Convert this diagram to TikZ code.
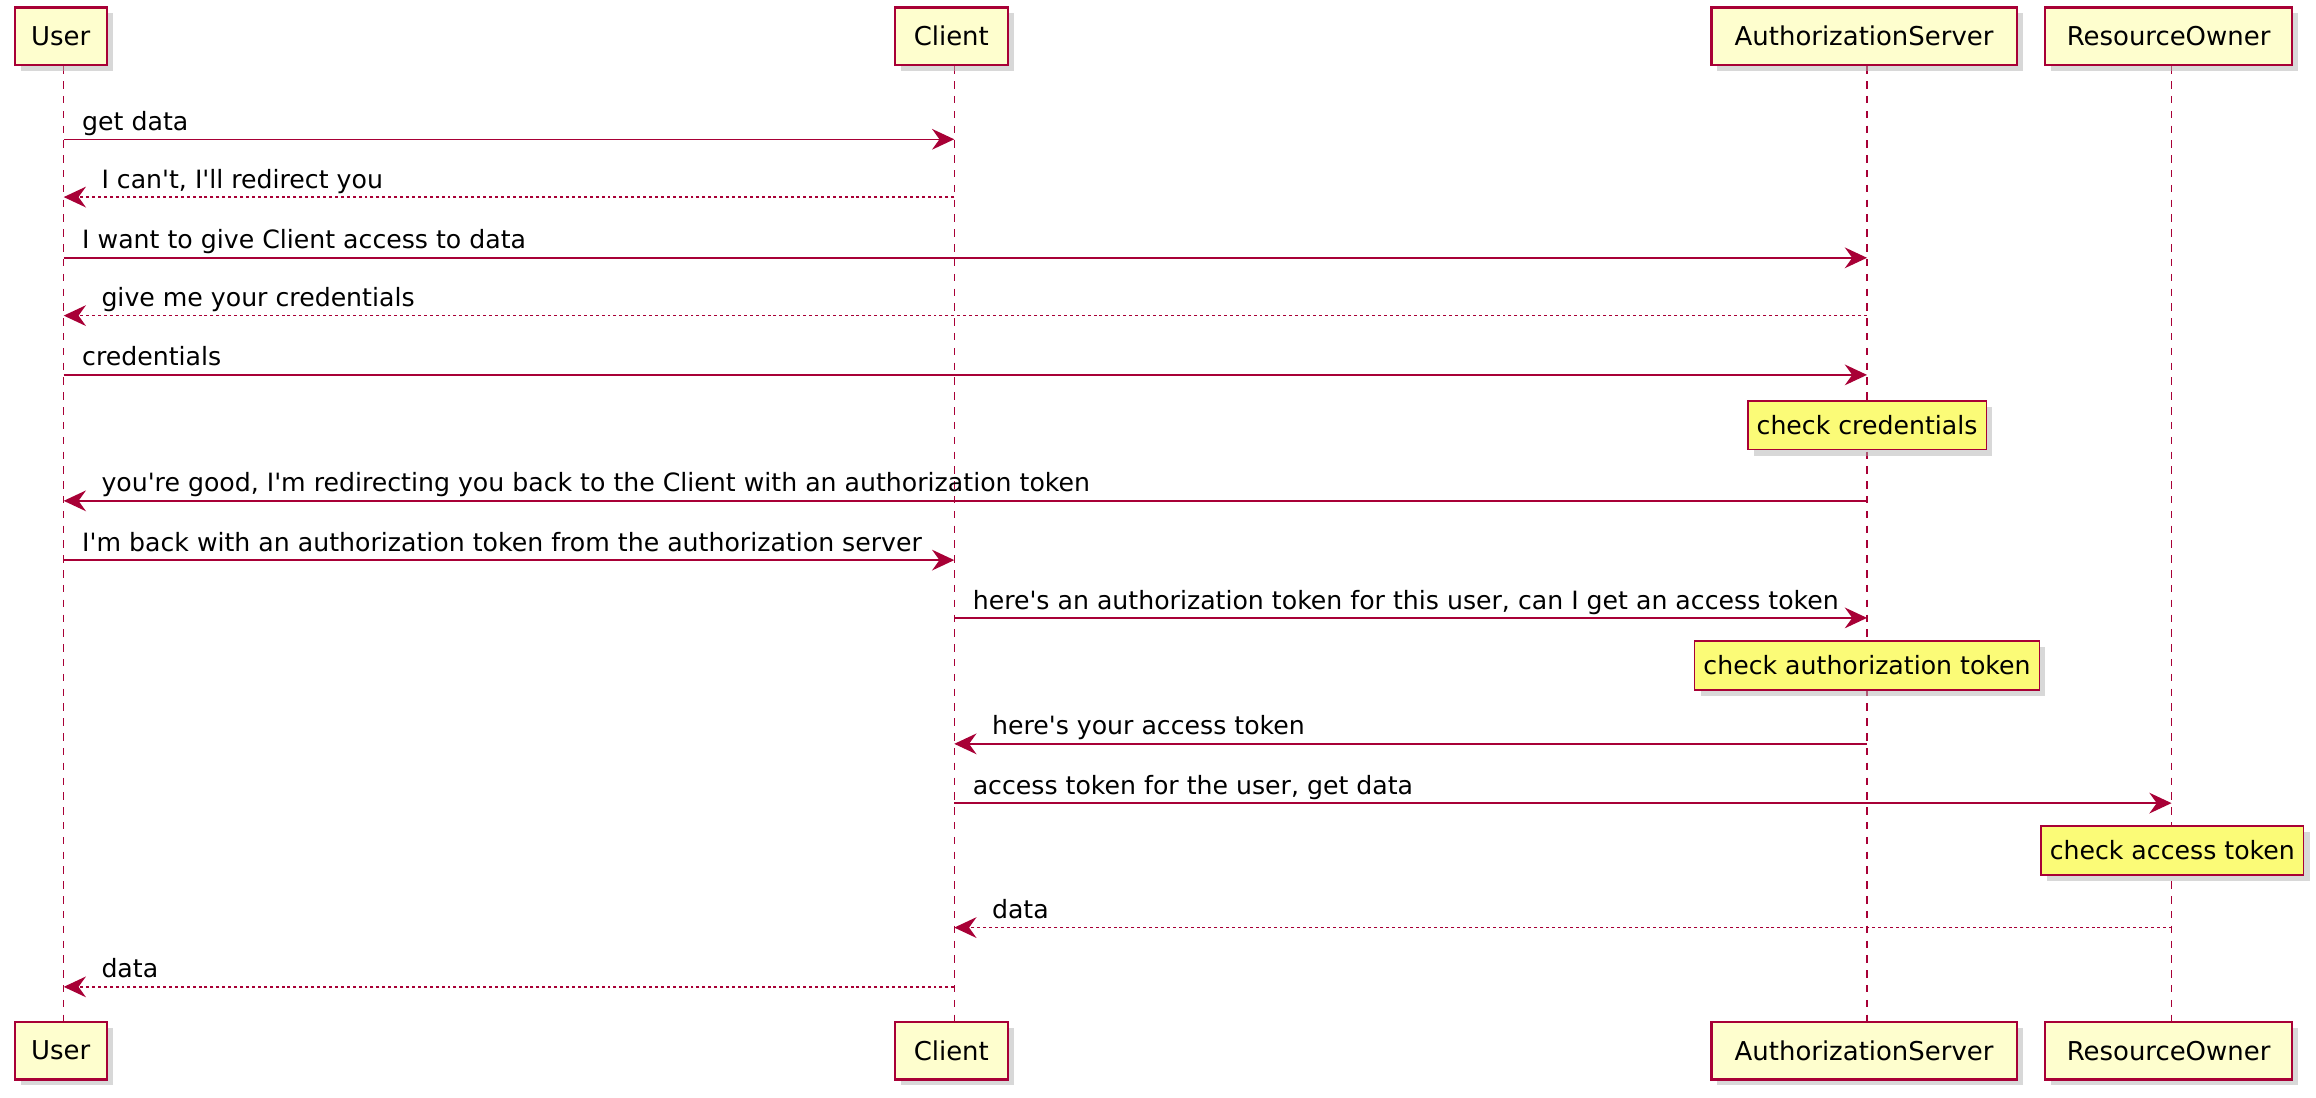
\documentclass[tikz,border=0pt]{standalone}
\usepackage{fontspec}
\setmainfont{DejaVu Sans}
\usetikzlibrary{arrows.meta,shadows,backgrounds}

\definecolor{umlred}{HTML}{A80036}
\definecolor{umlbox}{HTML}{FEFECE}
\definecolor{umlnote}{HTML}{FBFB77}
\newcommand{\ap}{\textquotesingle} % straight apostrophe

\begin{document}
\begin{tikzpicture}[
            x = 1pt, y = -1pt, % pixel units, y going down
            > = {Stealth[length=15pt, width=14pt, inset=5pt]}, % arrow head style
            party/.style = {draw=umlred, fill=umlbox, line width=1.5pt, minimum height=39pt,
                inner xsep=0pt, font=\fontsize{17.5}{20}\selectfont,
                drop shadow={shadow xshift=4pt, shadow yshift=-4pt, fill=black!30}},
            life/.style = {umlred, line width=1pt, dash pattern=on 5pt off 5pt},
            msg/.style = {->, umlred, line width=1pt},
            reply/.style = {msg, dash pattern=on 2pt off 2pt},
            lbl/.style = {anchor=base west, text=black, inner sep=0pt,
                font=\fontsize{17}{20}\selectfont, xshift=12pt, yshift=6pt},
            lblback/.style = {lbl, xshift=13pt},
            note/.style = {draw=umlred, fill=umlnote, line width=1pt, minimum height=33pt,
                inner xsep=6pt, font=\fontsize{17}{20}\selectfont,
                drop shadow={shadow xshift=4pt, shadow yshift=-4pt, fill=black!30}}
        ]
    \useasboundingbox (0,0) rectangle (1563,741);

    % participants, top and bottom
    \node[party, minimum width=62pt] (user) at (41,24.5) {User};
    \node[party, minimum width=76pt] (client) at (642,24.5) {Client};
    \node[party, minimum width=206pt] (auth) at (1258,24.5) {AuthorizationServer};
    \node[party, minimum width=167pt] (owner) at (1463.5,24.5) {ResourceOwner};
    \node[party, minimum width=62pt] (userB) at (41,709) {User};
    \node[party, minimum width=76pt] (clientB) at (642,709) {Client};
    \node[party, minimum width=206pt] (authB) at (1258,709) {AuthorizationServer};
    \node[party, minimum width=167pt] (ownerB) at (1463.5,709) {ResourceOwner};

    % lifelines
    \begin{scope}[on background layer]
        \foreach \p in {user, client, auth, owner}
            \draw[life] ([xshift=2pt]\p.south) -- ([xshift=2pt]\p B.north);
    \end{scope}

    % points on the lifelines, one row per message
    \foreach \n/\yy in {1/94, 2/133, 3/174, 4/213, 5/253, 6/338, 7/378, 8/417,
                        9/502, 10/542, 11/626, 12/666} {
        \coordinate (u\n) at (43,\yy);
        \coordinate (c\n) at (644,\yy);
        \coordinate (a\n) at (1260,\yy);
        \coordinate (o\n) at (1465.5,\yy);
    }

    \draw[msg] (u1) node[lbl] {get data} -- (c1);
    \draw[reply] (c2) -- (u2) node[lblback] {I can\ap t, I\ap ll redirect you};
    \draw[msg] (u3) node[lbl] {I want to give Client access to data} -- (a3);
    \draw[reply] (a4) -- (u4) node[lblback] {give me your credentials};
    \draw[msg] (u5) node[lbl] {credentials} -- (a5);
    \node[note] (chkcred) at (1260,287) {check credentials};
    \draw[msg] (a6) -- (u6) node[lblback] {you\ap re good, I\ap m redirecting you back to the Client with an authorization token};
    \draw[msg] (u7) node[lbl] {I\ap m back with an authorization token from the authorization server} -- (c7);
    \draw[msg] (c8) node[lbl] {here\ap s an authorization token for this user, can I get an access token} -- (a8);
    \node[note] (chkauth) at (1260,449) {check authorization token};
    \draw[msg] (a9) -- (c9) node[lblback] {here\ap s your access token};
    \draw[msg] (c10) node[lbl] {access token for the user, get data} -- (o10);
    \node[note] (chkacc) at (1466,574) {check access token};
    \draw[reply] (o11) -- (c11) node[lblback] {data};
    \draw[reply] (c12) -- (u12) node[lblback] {data};
\end{tikzpicture}
\end{document}
